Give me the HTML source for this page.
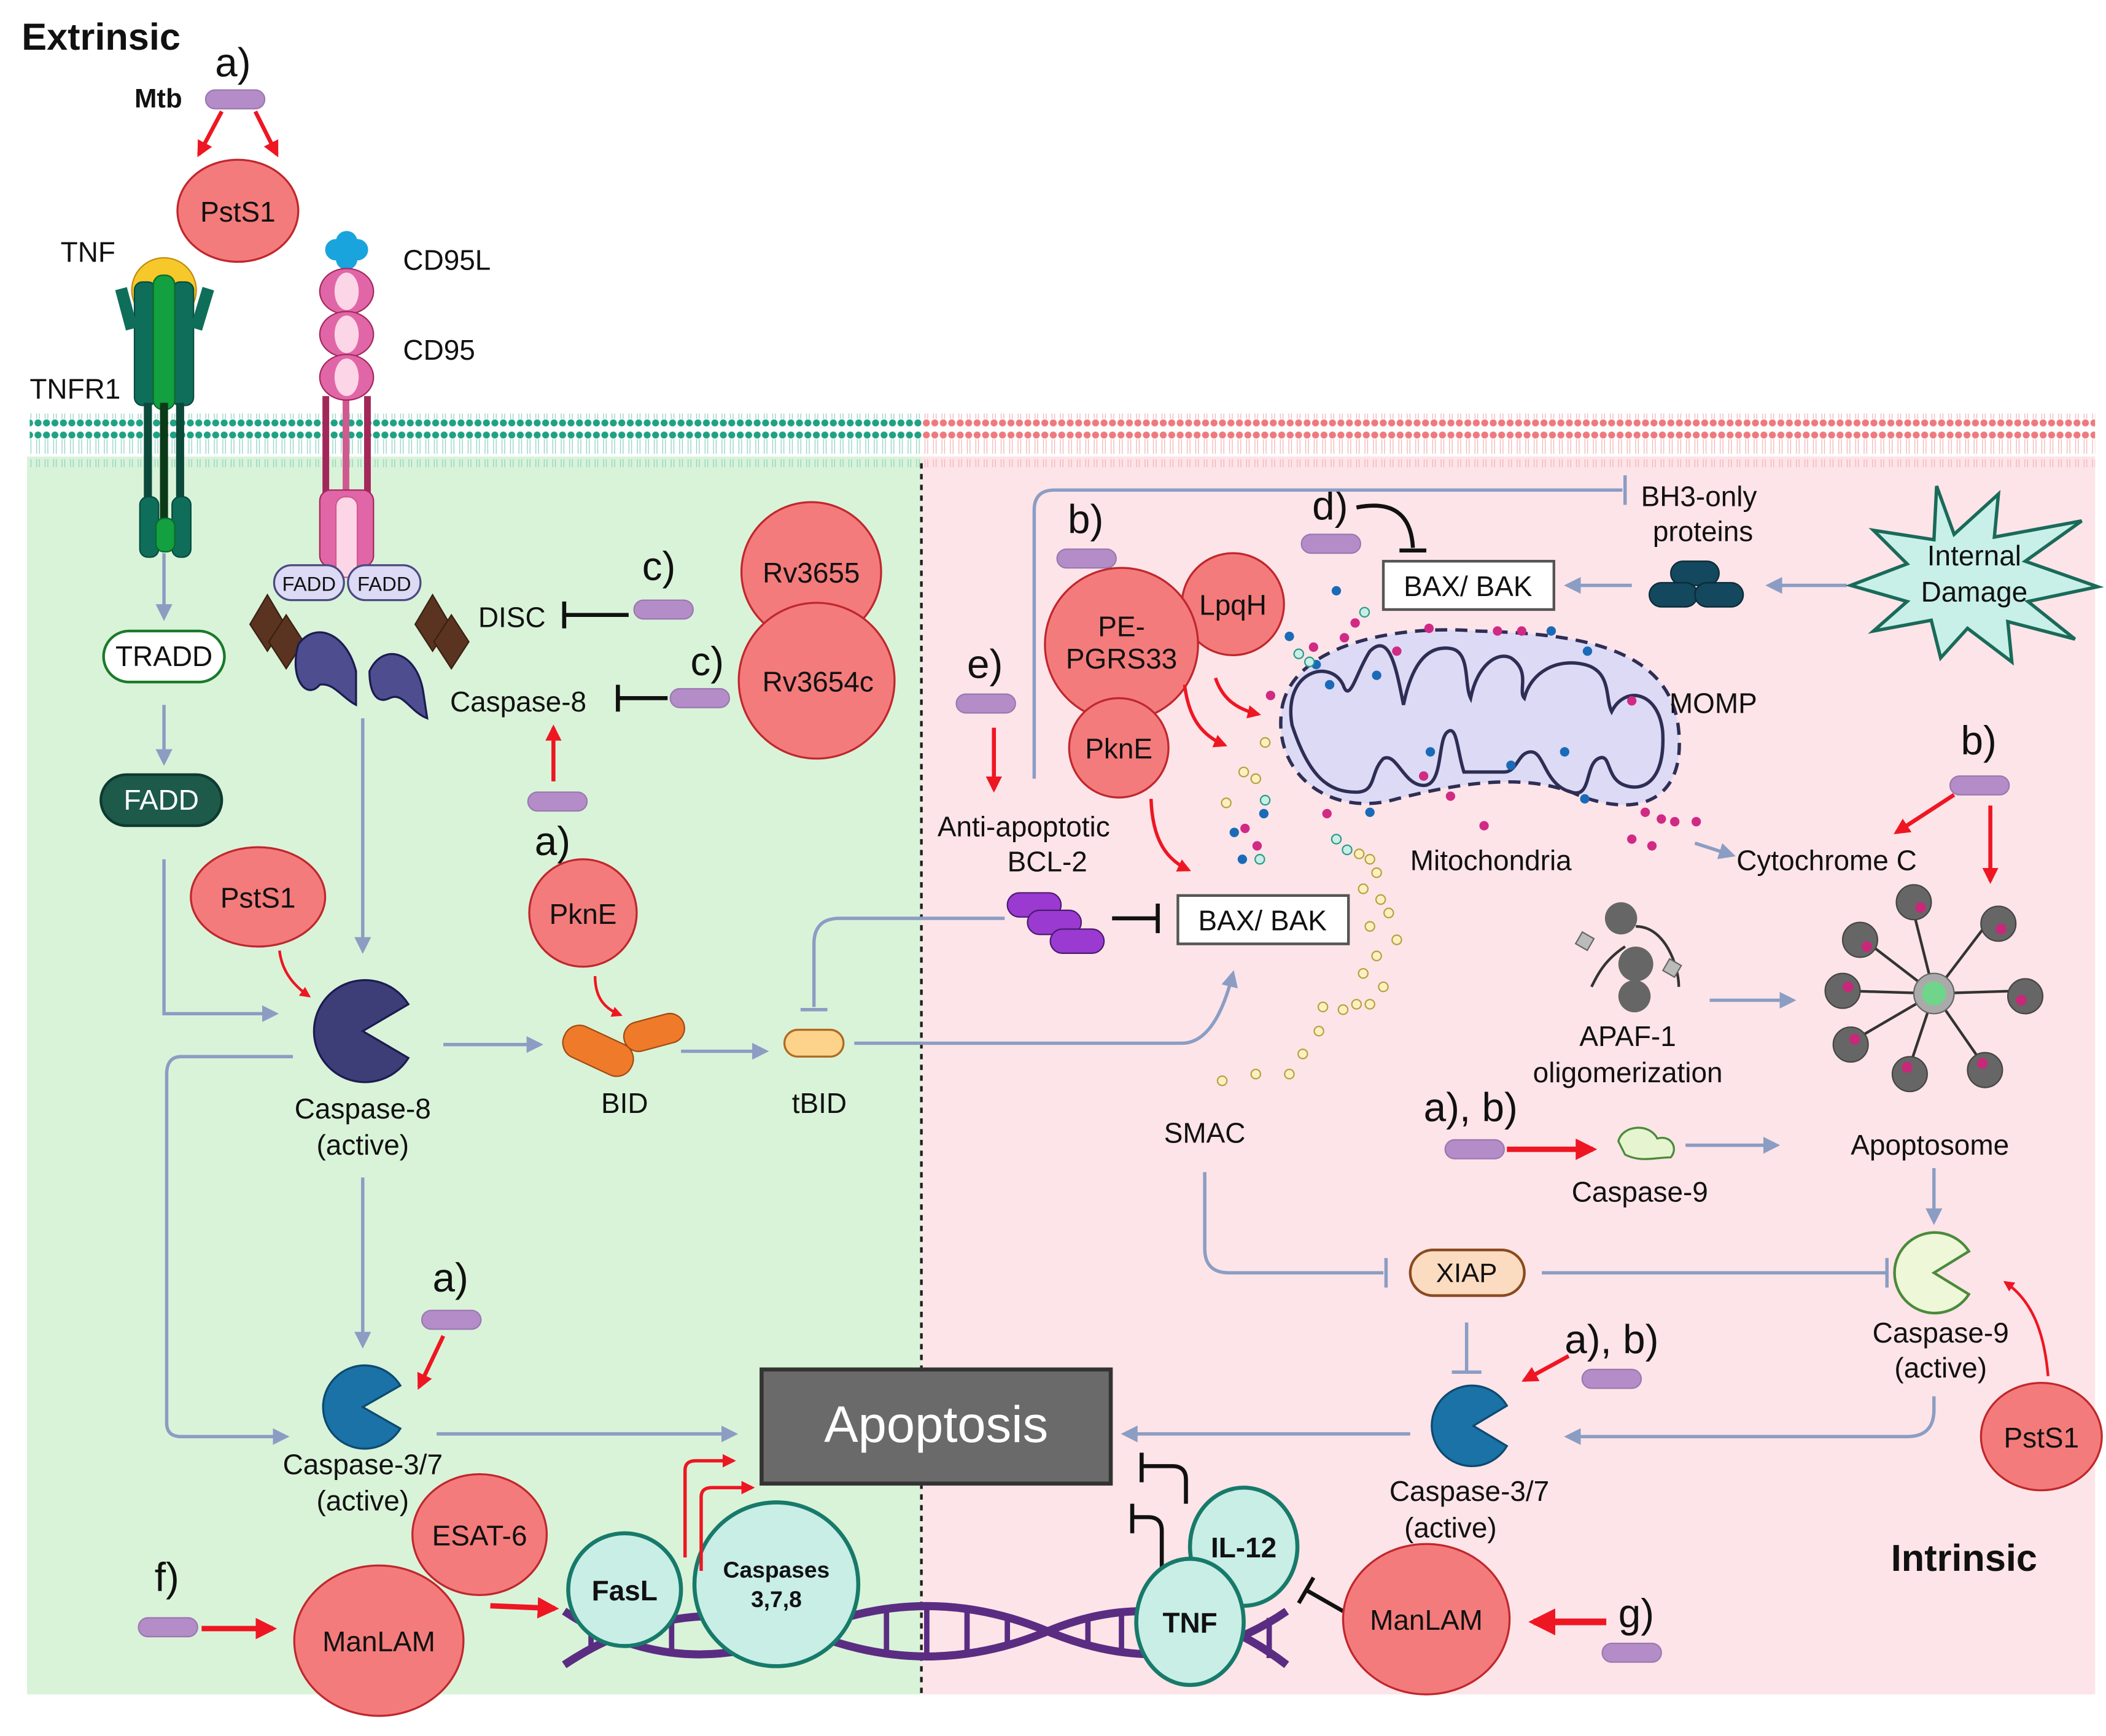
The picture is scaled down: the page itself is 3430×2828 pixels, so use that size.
<!DOCTYPE html>
<html><head><meta charset="utf-8"><style>
html,body{margin:0;padding:0;background:#fff}
svg{display:block}
text{font-family:"Liberation Sans",sans-serif;fill:#111}
</style></head><body>
<svg width="3430" height="2828" viewBox="0 0 1568 1293" xmlns="http://www.w3.org/2000/svg">
<defs>
<marker id="ab" viewBox="0 0 10 10" refX="8" refY="5" markerWidth="5" markerHeight="5" orient="auto"><path d="M0,0L10,5L0,10z" fill="#8b9dc3"/></marker>
<marker id="ar" viewBox="0 0 10 10" refX="8" refY="5" markerWidth="4" markerHeight="4" orient="auto"><path d="M0,0L10,5L0,10z" fill="#ee1622"/></marker>
<pattern id="memG" width="6.3" height="40" patternUnits="userSpaceOnUse"><circle cx="3" cy="4" r="2.6" fill="#1fa283"/><circle cx="3" cy="35" r="2.6" fill="#1fa283"/><path d="M2,7L2,18M4,7L4,18M2,22L2,32M4,22L4,32" stroke="#8fd3c2" stroke-width="0.6"/></pattern>
<pattern id="memP" width="6.3" height="40" patternUnits="userSpaceOnUse"><circle cx="3" cy="4" r="2.6" fill="#ee7a7f"/><circle cx="3" cy="35" r="2.6" fill="#ee7a7f"/><path d="M2,7L2,18M4,7L4,18M2,22L2,32M4,22L4,32" stroke="#f3b4b7" stroke-width="0.6"/></pattern>
<g id="pill"><rect x="0" y="0" width="44" height="14" rx="7" fill="#b48cc8" stroke="#9a78b0"/></g>
</defs>
<rect width="1568" height="1293" fill="#fff"/>
<rect x="20" y="340" width="666" height="922" fill="#d9f3d9"/>
<rect x="686" y="340" width="874" height="922" fill="#fde4e8"/>
<rect x="22" y="308" width="664" height="40" fill="url(#memG)"/>
<rect x="686" y="308" width="874" height="40" fill="url(#memP)"/>
<line x1="686" y1="345" x2="686" y2="1262" stroke="#222" stroke-width="2" stroke-dasharray="4,4"/>

<!-- Extrinsic top -->
<text x="16" y="37" font-size="28" font-weight="bold">Extrinsic</text>
<text x="160" y="57" font-size="30">a)</text>
<text x="100" y="80" font-size="20" font-weight="bold">Mtb</text>
<use href="#pill" x="153" y="67"/>
<line x1="165" y1="83" x2="148" y2="115" stroke="#ee1622" stroke-width="3" marker-end="url(#ar)"/>
<line x1="190" y1="83" x2="206" y2="115" stroke="#ee1622" stroke-width="3" marker-end="url(#ar)"/>
<ellipse cx="177" cy="157" rx="45" ry="38" fill="#f47b7b" stroke="#c0272d" stroke-width="1.5"/>
<text x="177" y="165" font-size="21" text-anchor="middle">PstS1</text>

<text x="45" y="195" font-size="21">TNF</text>
<text x="22" y="297" font-size="21">TNFR1</text>
<text x="300" y="201" font-size="21">CD95L</text>
<text x="300" y="268" font-size="21">CD95</text>
<!-- TNFR1 -->
<circle cx="122" cy="216" r="24" fill="#f6c82a" stroke="#c08a10"/>
<rect x="100" y="210" width="16" height="92" rx="6" fill="#0e6e5a" stroke="#074a3c"/>
<rect x="128" y="210" width="16" height="92" rx="6" fill="#0e6e5a" stroke="#074a3c"/>
<rect x="114" y="205" width="16" height="100" rx="7" fill="#12a040" stroke="#0a6a2a"/>
<path d="M90,215L98,245M155,215L146,245" stroke="#0e6e5a" stroke-width="9"/>
<rect x="107" y="300" width="6" height="72" fill="#0b4a3b"/>
<rect x="131" y="300" width="6" height="72" fill="#0b4a3b"/>
<rect x="119" y="300" width="6" height="90" fill="#0b3a18"/>
<rect x="104" y="370" width="14" height="45" rx="6" fill="#0e6e5a" stroke="#074a3c"/>
<rect x="128" y="370" width="14" height="45" rx="6" fill="#0e6e5a" stroke="#074a3c"/>
<rect x="116" y="386" width="14" height="25" rx="6" fill="#12a040" stroke="#0a6a2a"/>
<!-- CD95 -->
<circle cx="250" cy="186" r="8" fill="#1aa4dd"/><circle cx="266" cy="186" r="8" fill="#1aa4dd"/><circle cx="258" cy="180" r="8" fill="#1aa4dd"/><circle cx="258" cy="193" r="8" fill="#1aa4dd"/>
<rect x="240" y="295" width="5" height="75" fill="#a3285a"/>
<rect x="271" y="295" width="5" height="75" fill="#a3285a"/>
<rect x="255" y="295" width="5" height="75" fill="#d05a90"/>
<ellipse cx="258" cy="217" rx="20" ry="17" fill="#e166a8" stroke="#a3285a"/>
<ellipse cx="258" cy="249" rx="20" ry="17" fill="#e166a8" stroke="#a3285a"/>
<ellipse cx="258" cy="281" rx="20" ry="17" fill="#e166a8" stroke="#a3285a"/>
<ellipse cx="258" cy="217" rx="9" ry="14" fill="#fcd6e6"/><ellipse cx="258" cy="249" rx="9" ry="14" fill="#fcd6e6"/><ellipse cx="258" cy="281" rx="9" ry="14" fill="#fcd6e6"/>
<rect x="238" y="365" width="40" height="57" rx="8" fill="#e166a8" stroke="#a3285a"/>
<rect x="250" y="370" width="16" height="60" rx="7" fill="#fcd6e6" stroke="#d05a90"/>
<rect x="204" y="421" width="52" height="26" rx="13" fill="#dcdaf5" stroke="#4a4a80" stroke-width="1.5"/>
<rect x="259" y="421" width="54" height="26" rx="13" fill="#dcdaf5" stroke="#4a4a80" stroke-width="1.5"/>
<text x="230" y="440" font-size="15" text-anchor="middle">FADD</text>
<text x="286" y="440" font-size="15" text-anchor="middle">FADD</text>
<path d="M199,443L212,465L199,485L186,465z" fill="#5a3420" stroke="#3a2010"/>
<path d="M213,458L226,478L213,498L200,478z" fill="#5a3420" stroke="#3a2010"/>
<path d="M322,443L335,465L322,485L309,465z" fill="#5a3420" stroke="#3a2010"/>
<path d="M336,458L349,478L336,498L323,478z" fill="#5a3420" stroke="#3a2010"/>
<path d="M222,480C235,462 258,472 265,500L265,525C255,520 248,508 238,510C228,522 215,505 222,480z" fill="#4d4d90" stroke="#1c1c50" stroke-width="1.5"/>
<path d="M275,500C285,478 310,485 315,515L318,535C305,530 300,515 290,520C280,525 275,515 275,500z" fill="#4d4d90" stroke="#1c1c50" stroke-width="1.5"/>
<text x="356" y="467" font-size="21">DISC</text>
<line x1="468" y1="458" x2="420" y2="458" stroke="#111" stroke-width="3"/><line x1="420" y1="448" x2="420" y2="468" stroke="#111" stroke-width="3"/>
<use href="#pill" x="472" y="447"/>
<text x="478" y="432" font-size="30">c)</text>
<circle cx="604" cy="426" r="52" fill="#f47b7b" stroke="#c0272d" stroke-width="1.5"/>
<text x="604" y="434" font-size="21" text-anchor="middle">Rv3655</text>
<circle cx="608" cy="507" r="58" fill="#f47b7b" stroke="#c0272d" stroke-width="1.5"/>
<text x="609" y="515" font-size="21" text-anchor="middle">Rv3654c</text>
<text x="514" y="503" font-size="30">c)</text>
<use href="#pill" x="499" y="513"/>
<text x="335" y="530" font-size="21">Caspase-8</text>
<line x1="497" y1="520" x2="460" y2="520" stroke="#111" stroke-width="3"/><line x1="460" y1="510" x2="460" y2="530" stroke="#111" stroke-width="3"/>
<line x1="412" y1="582" x2="412" y2="542" stroke="#ee1622" stroke-width="3" marker-end="url(#ar)"/>
<use href="#pill" x="393" y="590"/>
<text x="398" y="637" font-size="30">a)</text>
<circle cx="434" cy="680" r="40" fill="#f47b7b" stroke="#c0272d" stroke-width="1.5"/>
<text x="434" y="688" font-size="21" text-anchor="middle">PknE</text>

<line x1="122" y1="412" x2="122" y2="460" stroke="#8b9dc3" stroke-width="2.5" marker-end="url(#ab)"/>
<rect x="77" y="470" width="90" height="38" rx="19" fill="#fff" stroke="#1a7a2a" stroke-width="2"/>
<text x="122" y="496" font-size="21" text-anchor="middle">TRADD</text>
<line x1="122" y1="525" x2="122" y2="568" stroke="#8b9dc3" stroke-width="2.5" marker-end="url(#ab)"/>
<rect x="75" y="577" width="90" height="38" rx="19" fill="#1d5a4a" stroke="#0e3a30" stroke-width="2"/>
<text x="120" y="603" font-size="21" text-anchor="middle" style="fill:#fff">FADD</text>
<path d="M122,640L122,755L205,755" fill="none" stroke="#8b9dc3" stroke-width="2.5" marker-end="url(#ab)"/>
<line x1="270" y1="535" x2="270" y2="708" stroke="#8b9dc3" stroke-width="2.5" marker-end="url(#ab)"/>
<ellipse cx="192" cy="668" rx="50" ry="37" fill="#f47b7b" stroke="#c0272d" stroke-width="1.5"/>
<text x="192" y="676" font-size="21" text-anchor="middle">PstS1</text>
<path d="M208,708C210,725 220,735 230,742" fill="none" stroke="#ee1622" stroke-width="2" marker-end="url(#ar)"/>
<path d="M270,768L304,748A38,38 0 1,0 304,788z" fill="#3d3d78" stroke="#1c1c50" stroke-width="1.5"/>
<text x="270" y="833" font-size="21" text-anchor="middle">Caspase-8</text>
<text x="270" y="860" font-size="21" text-anchor="middle">(active)</text>
<line x1="330" y1="778" x2="402" y2="778" stroke="#8b9dc3" stroke-width="2.5" marker-end="url(#ab)"/>
<rect x="418" y="770" width="55" height="25" rx="12" transform="rotate(25 445 782)" fill="#ee7a2a" stroke="#a04a10"/>
<rect x="464" y="758" width="46" height="22" rx="11" transform="rotate(-15 487 769)" fill="#ee7a2a" stroke="#a04a10"/>
<text x="465" y="829" font-size="21" text-anchor="middle">BID</text>
<path d="M443,727C443,745 452,752 462,756" fill="none" stroke="#ee1622" stroke-width="2" marker-end="url(#ar)"/>
<line x1="507" y1="783" x2="570" y2="783" stroke="#8b9dc3" stroke-width="2.5" marker-end="url(#ab)"/>
<rect x="584" y="767" width="44" height="20" rx="10" fill="#fdd38c" stroke="#b06a20" stroke-width="1.5"/>
<text x="610" y="829" font-size="21" text-anchor="middle">tBID</text>
<path d="M748,684L625,684Q606,684 606,703L606,750" fill="none" stroke="#8b9dc3" stroke-width="2.5"/>
<line x1="596" y1="752" x2="616" y2="752" stroke="#8b9dc3" stroke-width="2.5"/>
<path d="M636,777L880,777Q905,777 918,725" fill="none" stroke="#8b9dc3" stroke-width="2.5" marker-end="url(#ab)"/>
<line x1="270" y1="877" x2="270" y2="1002" stroke="#8b9dc3" stroke-width="2.5" marker-end="url(#ab)"/>
<path d="M218,787L135,787Q124,787 124,800L124,1060Q124,1070 135,1070L213,1070" fill="none" stroke="#8b9dc3" stroke-width="2.5" marker-end="url(#ab)"/>
<text x="322" y="962" font-size="30">a)</text>
<use href="#pill" x="314" y="976"/>
<line x1="330" y1="995" x2="312" y2="1033" stroke="#ee1622" stroke-width="3" marker-end="url(#ar)"/>
<path d="M270,1048L298,1032A31,31 0 1,0 298,1064z" fill="#1a72a6" stroke="#0d4a70" stroke-width="1.5"/>
<text x="270" y="1098" font-size="21" text-anchor="middle">Caspase-3/7</text>
<text x="270" y="1125" font-size="21" text-anchor="middle">(active)</text>
<line x1="325" y1="1068" x2="547" y2="1068" stroke="#8b9dc3" stroke-width="2.5" marker-end="url(#ab)"/>
<rect x="567" y="1020" width="260" height="85" fill="#6a6a6a" stroke="#333" stroke-width="3"/>
<text x="697" y="1074" font-size="38" text-anchor="middle" style="fill:#fff">Apoptosis</text>

<!-- bottom -->
<text x="115" y="1185" font-size="30">f)</text>
<use href="#pill" x="103" y="1205"/>
<line x1="150" y1="1213" x2="203" y2="1213" stroke="#ee1622" stroke-width="4" marker-end="url(#ar)"/>
<ellipse cx="282" cy="1222" rx="63" ry="56" fill="#f47b7b" stroke="#c0272d" stroke-width="1.5"/>
<text x="282" y="1230" font-size="21" text-anchor="middle">ManLAM</text>
<ellipse cx="357" cy="1143" rx="50" ry="45" fill="#f47b7b" stroke="#c0272d" stroke-width="1.5"/>
<text x="357" y="1151" font-size="21" text-anchor="middle">ESAT-6</text>
<line x1="365" y1="1196" x2="413" y2="1198" stroke="#ee1622" stroke-width="4" marker-end="url(#ar)"/>
<!-- DNA -->
<path d="M420,1200 C480,1240 540,1240 600,1215 C660,1190 720,1190 780,1215 C840,1240 900,1240 958,1200" fill="none" stroke="#5a2d82" stroke-width="6"/>
<path d="M420,1240 C480,1200 540,1195 600,1215 C660,1240 720,1240 780,1215 C840,1190 900,1195 958,1240" fill="none" stroke="#5a2d82" stroke-width="6"/>
<g stroke="#5a2d82" stroke-width="4">
<line x1="440" y1="1212" x2="440" y2="1228"/><line x1="470" y1="1222" x2="470" y2="1208"/><line x1="500" y1="1230" x2="500" y2="1205"/><line x1="660" y1="1198" x2="660" y2="1232"/><line x1="690" y1="1198" x2="690" y2="1232"/><line x1="720" y1="1198" x2="720" y2="1232"/><line x1="750" y1="1203" x2="750" y2="1228"/><line x1="810" y1="1205" x2="810" y2="1228"/><line x1="835" y1="1200" x2="835" y2="1232"/><line x1="945" y1="1205" x2="945" y2="1235"/>
</g>
<circle cx="465" cy="1184" r="42" fill="#c8eee6" stroke="#177a6a" stroke-width="3"/>
<text x="465" y="1192" font-size="21" font-weight="bold" text-anchor="middle">FasL</text>
<circle cx="578" cy="1180" r="61" fill="#c8eee6" stroke="#177a6a" stroke-width="3"/>
<text x="578" y="1175" font-size="17" font-weight="bold" text-anchor="middle">Caspases</text>
<text x="578" y="1197" font-size="17" font-weight="bold" text-anchor="middle">3,7,8</text>
<path d="M510,1160L510,1095Q510,1088 518,1088L546,1088" fill="none" stroke="#ee1622" stroke-width="2.5" marker-end="url(#ar)"/>
<path d="M522,1170L522,1115Q522,1108 530,1108L560,1108" fill="none" stroke="#ee1622" stroke-width="2.5" marker-end="url(#ar)"/>
<path d="M865,1172L865,1140Q865,1130 855,1130L843,1130" fill="none" stroke="#111" stroke-width="3"/><line x1="843" y1="1120" x2="843" y2="1142" stroke="#111" stroke-width="3"/>
<path d="M883,1120L883,1102Q883,1092 873,1092L850,1092" fill="none" stroke="#111" stroke-width="3"/><line x1="850" y1="1082" x2="850" y2="1104" stroke="#111" stroke-width="3"/>
<ellipse cx="926" cy="1152" rx="40" ry="44" fill="#c8eee6" stroke="#177a6a" stroke-width="3"/>
<text x="926" y="1160" font-size="21" font-weight="bold" text-anchor="middle">IL-12</text>
<ellipse cx="886" cy="1208" rx="40" ry="47" fill="#c8eee6" stroke="#177a6a" stroke-width="3"/>
<text x="886" y="1216" font-size="21" font-weight="bold" text-anchor="middle">TNF</text>
<line x1="1000" y1="1200" x2="972" y2="1184" stroke="#111" stroke-width="3"/><line x1="967" y1="1194" x2="978" y2="1175" stroke="#111" stroke-width="3"/>
<ellipse cx="1062" cy="1206" rx="62" ry="56" fill="#f47b7b" stroke="#c0272d" stroke-width="1.5"/>
<text x="1062" y="1214" font-size="21" text-anchor="middle">ManLAM</text>
<line x1="1196" y1="1208" x2="1142" y2="1208" stroke="#ee1622" stroke-width="5" marker-end="url(#ar)"/>
<text x="1205" y="1212" font-size="30">g)</text>
<use href="#pill" x="1193" y="1224"/>
<text x="1408" y="1170" font-size="28" font-weight="bold">Intrinsic</text>

<!-- right lower -->
<ellipse cx="1520" cy="1070" rx="45" ry="40" fill="#f47b7b" stroke="#c0272d" stroke-width="1.5"/>
<text x="1520" y="1078" font-size="21" text-anchor="middle">PstS1</text>
<path d="M1525,1025C1522,990 1512,968 1493,955" fill="none" stroke="#ee1622" stroke-width="2" marker-end="url(#ar)"/>
<path d="M1440,948L1466,932A30,30 0 1,0 1466,964z" fill="#eef7d8" stroke="#4a8a3a" stroke-width="2"/>
<text x="1445" y="1000" font-size="21" text-anchor="middle">Caspase-9</text>
<text x="1445" y="1026" font-size="21" text-anchor="middle">(active)</text>
<line x1="1440" y1="870" x2="1440" y2="910" stroke="#8b9dc3" stroke-width="2.5" marker-end="url(#ab)"/>
<text x="1437" y="860" font-size="21" text-anchor="middle">Apoptosome</text>
<path d="M1440,1040L1440,1050Q1440,1070 1420,1070L1167,1070" fill="none" stroke="#8b9dc3" stroke-width="2.5" marker-end="url(#ab)"/>
<path d="M1097,1062L1122,1047A30,30 0 1,0 1122,1077z" fill="#1a72a6" stroke="#0d4a70" stroke-width="1.5"/>
<text x="1094" y="1118" font-size="21" text-anchor="middle">Caspase-3/7</text>
<text x="1080" y="1145" font-size="21" text-anchor="middle">(active)</text>
<line x1="1050" y1="1068" x2="837" y2="1068" stroke="#8b9dc3" stroke-width="2.5" marker-end="url(#ab)"/>
<text x="1165" y="1008" font-size="30">a), b)</text>
<use href="#pill" x="1178" y="1020"/>
<line x1="1168" y1="1010" x2="1135" y2="1028" stroke="#ee1622" stroke-width="3" marker-end="url(#ar)"/>
<rect x="1050" y="931" width="85" height="34" rx="17" fill="#fbdcc0" stroke="#8a4a20" stroke-width="2"/>
<text x="1092" y="955" font-size="20" text-anchor="middle">XIAP</text>
<line x1="1148" y1="948" x2="1405" y2="948" stroke="#8b9dc3" stroke-width="2.5"/><line x1="1405" y1="937" x2="1405" y2="959" stroke="#8b9dc3" stroke-width="2.5"/>
<line x1="1092" y1="985" x2="1092" y2="1022" stroke="#8b9dc3" stroke-width="2.5"/><line x1="1081" y1="1022" x2="1103" y2="1022" stroke="#8b9dc3" stroke-width="2.5"/>
<text x="897" y="851" font-size="21" text-anchor="middle">SMAC</text>
<path d="M897,873L897,930Q897,948 915,948L1030,948" fill="none" stroke="#8b9dc3" stroke-width="2.5"/><line x1="1032" y1="937" x2="1032" y2="959" stroke="#8b9dc3" stroke-width="2.5"/>
<text x="1060" y="835" font-size="30">a), b)</text>
<use href="#pill" x="1076" y="849"/>
<line x1="1122" y1="856" x2="1186" y2="856" stroke="#ee1622" stroke-width="4" marker-end="url(#ar)"/>
<path d="M1205,850C1208,838 1228,836 1234,848C1244,845 1250,855 1244,862C1232,862 1222,866 1210,860z" fill="#e6f5d0" stroke="#4a8a3a" stroke-width="1.5"/>
<text x="1221" y="895" font-size="21" text-anchor="middle">Caspase-9</text>
<line x1="1255" y1="853" x2="1323" y2="853" stroke="#8b9dc3" stroke-width="2.5" marker-end="url(#ab)"/>
<!-- APAF -->
<path d="M1218,690C1240,690 1250,720 1250,735M1210,705C1195,715 1190,725 1185,735" fill="none" stroke="#333" stroke-width="2"/>
<circle cx="1207" cy="684" r="12" fill="#666"/><circle cx="1218" cy="718" r="13" fill="#666"/><circle cx="1217" cy="742" r="12" fill="#666"/>
<rect x="1175" y="696" width="10" height="10" fill="#bbb" stroke="#666" transform="rotate(30 1180 701)"/>
<rect x="1240" y="716" width="10" height="10" fill="#bbb" stroke="#666" transform="rotate(30 1245 721)"/>
<text x="1212" y="779" font-size="21" text-anchor="middle">APAF-1</text>
<text x="1212" y="806" font-size="21" text-anchor="middle">oligomerization</text>
<line x1="1273" y1="745" x2="1335" y2="745" stroke="#8b9dc3" stroke-width="2.5" marker-end="url(#ab)"/>
<!-- apoptosome -->
<g stroke="#333" stroke-width="2" fill="none">
<path d="M1440,740L1425,680M1440,740L1478,690M1440,740L1503,738M1440,740L1476,792M1440,740L1420,800M1440,740L1380,775M1440,740L1375,738M1440,740L1388,700"/>
</g>
<g fill="#666" stroke="#444">
<circle cx="1425" cy="672" r="13"/><circle cx="1488" cy="688" r="13"/><circle cx="1508" cy="742" r="13"/><circle cx="1478" cy="797" r="13"/><circle cx="1422" cy="800" r="13"/><circle cx="1378" cy="778" r="13"/><circle cx="1372" cy="738" r="13"/><circle cx="1385" cy="700" r="13"/>
</g>
<g fill="#c8287a"><circle cx="1430" cy="676" r="4"/><circle cx="1490" cy="692" r="4"/><circle cx="1505" cy="745" r="4"/><circle cx="1476" cy="792" r="4"/><circle cx="1420" cy="795" r="4"/><circle cx="1381" cy="774" r="4"/><circle cx="1376" cy="735" r="4"/><circle cx="1390" cy="705" r="4"/></g>
<circle cx="1440" cy="740" r="15" fill="#aaa" stroke="#666"/><circle cx="1440" cy="740" r="9" fill="#6fd58a"/>
<text x="1293" y="648" font-size="21">Cytochrome C</text>
<text x="1460" y="562" font-size="30">b)</text>
<use href="#pill" x="1452" y="578"/>
<line x1="1455" y1="592" x2="1412" y2="620" stroke="#ee1622" stroke-width="3" marker-end="url(#ar)"/>
<line x1="1482" y1="600" x2="1482" y2="656" stroke="#ee1622" stroke-width="3" marker-end="url(#ar)"/>
<line x1="1262" y1="628" x2="1290" y2="637" stroke="#8b9dc3" stroke-width="2.5" marker-end="url(#ab)"/>

<!-- mitochondria -->
<path d="M955,525C965,480 1040,465 1100,470C1170,472 1245,480 1250,545C1255,600 1215,610 1170,590C1130,575 1080,585 1040,595C990,610 945,575 955,525z" fill="#dcdaf5" stroke="#2e2e55" stroke-width="2.5" stroke-dasharray="9,6"/>
<path d="M962,540C955,500 990,490 1000,510C1005,525 1010,500 1020,485C1035,470 1040,500 1045,525C1050,500 1060,480 1080,483C1095,485 1090,510 1095,520C1100,495 1115,485 1125,490C1140,500 1130,515 1135,520C1140,500 1160,490 1180,495C1200,500 1195,520 1200,530C1210,510 1235,515 1238,545C1240,580 1225,590 1210,585C1195,580 1200,560 1190,565C1180,570 1185,595 1170,590C1150,585 1150,560 1140,560C1130,560 1130,575 1120,575L1090,575C1085,560 1085,540 1078,545C1070,550 1075,585 1060,585C1045,585 1040,560 1030,565C1020,575 1025,590 1010,590C990,590 975,580 962,540z" fill="none" stroke="#2e2e55" stroke-width="2.5"/>
<g fill="#d02a85"><circle cx="1009" cy="464" r="3.5"/><circle cx="1001" cy="475" r="3.5"/><circle cx="978" cy="482" r="3.5"/><circle cx="1040" cy="485" r="3.5"/><circle cx="1064" cy="468" r="3.5"/><circle cx="1115" cy="470" r="3.5"/><circle cx="1133" cy="470" r="3.5"/><circle cx="946" cy="518" r="3.5"/><circle cx="1215" cy="522" r="3.5"/><circle cx="988" cy="606" r="3.5"/><circle cx="1060" cy="578" r="3.5"/><circle cx="1105" cy="615" r="3.5"/><circle cx="1225" cy="605" r="3.5"/><circle cx="1237" cy="610" r="3.5"/><circle cx="1247" cy="612" r="3.5"/><circle cx="1215" cy="625" r="3.5"/><circle cx="1230" cy="630" r="3.5"/><circle cx="1263" cy="612" r="3.5"/><circle cx="927" cy="617" r="3.5"/><circle cx="936" cy="630" r="3.5"/><circle cx="1080" cy="593" r="3.5"/></g>
<g fill="#1a6ab8"><circle cx="995" cy="440" r="3.5"/><circle cx="960" cy="474" r="3.5"/><circle cx="980" cy="495" r="3.5"/><circle cx="1155" cy="470" r="3.5"/><circle cx="1182" cy="485" r="3.5"/><circle cx="1025" cy="503" r="3.5"/><circle cx="990" cy="510" r="3.5"/><circle cx="1125" cy="570" r="3.5"/><circle cx="1065" cy="560" r="3.5"/><circle cx="1165" cy="560" r="3.5"/><circle cx="1180" cy="595" r="3.5"/><circle cx="1020" cy="605" r="3.5"/><circle cx="941" cy="606" r="3.5"/><circle cx="919" cy="620" r="3.5"/><circle cx="925" cy="640" r="3.5"/></g>
<g fill="#c8eee6" stroke="#2a9a8a"><circle cx="1016" cy="456" r="3.5"/><circle cx="967" cy="487" r="3.5"/><circle cx="975" cy="493" r="3.5"/><circle cx="942" cy="596" r="3.5"/><circle cx="995" cy="625" r="3.5"/><circle cx="938" cy="640" r="3.5"/><circle cx="1003" cy="633" r="3.5"/></g>
<g fill="#fbf0c0" stroke="#b8a040"><circle cx="942" cy="553" r="3.5"/><circle cx="926" cy="575" r="3.5"/><circle cx="913" cy="598" r="3.5"/><circle cx="935" cy="580" r="3.5"/><circle cx="1012" cy="636" r="3.5"/><circle cx="1020" cy="640" r="3.5"/><circle cx="1025" cy="650" r="3.5"/><circle cx="1015" cy="662" r="3.5"/><circle cx="1028" cy="670" r="3.5"/><circle cx="1034" cy="680" r="3.5"/><circle cx="1020" cy="690" r="3.5"/><circle cx="1040" cy="700" r="3.5"/><circle cx="1025" cy="712" r="3.5"/><circle cx="1015" cy="725" r="3.5"/><circle cx="1030" cy="735" r="3.5"/><circle cx="1010" cy="748" r="3.5"/><circle cx="1020" cy="748" r="3.5"/><circle cx="985" cy="750" r="3.5"/><circle cx="1000" cy="752" r="3.5"/><circle cx="982" cy="768" r="3.5"/><circle cx="970" cy="785" r="3.5"/><circle cx="960" cy="800" r="3.5"/><circle cx="935" cy="800" r="3.5"/><circle cx="910" cy="805" r="3.5"/></g>
<text x="1050" y="648" font-size="21">Mitochondria</text>
<text x="1243" y="531" font-size="21">MOMP</text>
<rect x="1030" y="418" width="127" height="36" fill="#fff" stroke="#555" stroke-width="2"/>
<text x="1093" y="444" font-size="21" text-anchor="middle">BAX/ BAK</text>
<line x1="1215" y1="436" x2="1167" y2="436" stroke="#8b9dc3" stroke-width="2.5" marker-end="url(#ab)"/>
<rect x="1244" y="418" width="36" height="18" rx="9" fill="#13485e" stroke="#0a2a38"/>
<rect x="1228" y="434" width="36" height="18" rx="9" fill="#13485e" stroke="#0a2a38"/>
<rect x="1262" y="434" width="36" height="18" rx="9" fill="#13485e" stroke="#0a2a38"/>
<text x="1265" y="377" font-size="21" text-anchor="middle">BH3-only</text>
<text x="1268" y="403" font-size="21" text-anchor="middle">proteins</text>
<line x1="1375" y1="436" x2="1317" y2="436" stroke="#8b9dc3" stroke-width="2.5" marker-end="url(#ab)"/>
<path d="M1442,362L1455,398L1488,368L1485,400L1550,388L1508,418L1562,437L1510,448L1545,476L1495,463L1498,493L1465,468L1445,490L1438,462L1395,470L1420,448L1378,436L1420,420L1395,395L1440,402z" fill="#c8f0e8" stroke="#1a6a5a" stroke-width="2.5"/>
<text x="1470" y="421" font-size="21" text-anchor="middle">Internal</text>
<text x="1470" y="448" font-size="21" text-anchor="middle">Damage</text>
<text x="977" y="387" font-size="30">d)</text>
<use href="#pill" x="969" y="398"/>
<path d="M1010,378Q1050,370 1052,408" fill="none" stroke="#111" stroke-width="3"/><line x1="1042" y1="410" x2="1062" y2="410" stroke="#111" stroke-width="3"/>
<path d="M770,580L770,380Q770,365 785,365L1208,365" fill="none" stroke="#8b9dc3" stroke-width="2.5"/><line x1="1210" y1="354" x2="1210" y2="376" stroke="#8b9dc3" stroke-width="2.5"/>
<text x="795" y="397" font-size="30">b)</text>
<use href="#pill" x="787" y="409"/>
<text x="720" y="505" font-size="30">e)</text>
<use href="#pill" x="712" y="517"/>
<line x1="740" y1="542" x2="740" y2="588" stroke="#ee1622" stroke-width="3" marker-end="url(#ar)"/>
<text x="698" y="623" font-size="21">Anti-apoptotic</text>
<text x="750" y="649" font-size="21">BCL-2</text>
<rect x="750" y="665" width="40" height="18" rx="9" fill="#9a3ad0" stroke="#4a1a70"/>
<rect x="765" y="678" width="40" height="18" rx="9" fill="#9a3ad0" stroke="#4a1a70"/>
<rect x="782" y="692" width="40" height="18" rx="9" fill="#9a3ad0" stroke="#4a1a70"/>
<line x1="828" y1="684" x2="862" y2="684" stroke="#111" stroke-width="3"/><line x1="862" y1="673" x2="862" y2="695" stroke="#111" stroke-width="3"/>
<rect x="877" y="667" width="127" height="36" fill="#fff" stroke="#555" stroke-width="2"/>
<text x="940" y="693" font-size="21" text-anchor="middle">BAX/ BAK</text>
<circle cx="918" cy="450" r="38" fill="#f47b7b" stroke="#c0272d" stroke-width="1.5"/>
<text x="918" y="458" font-size="21" text-anchor="middle">LpqH</text>
<circle cx="835" cy="480" r="57" fill="#f47b7b" stroke="#c0272d" stroke-width="1.5"/>
<text x="835" y="474" font-size="21" text-anchor="middle">PE-</text>
<text x="835" y="498" font-size="21" text-anchor="middle">PGRS33</text>
<circle cx="833" cy="557" r="37" fill="#f47b7b" stroke="#c0272d" stroke-width="1.5"/>
<text x="833" y="565" font-size="21" text-anchor="middle">PknE</text>
<path d="M882,510C885,535 895,548 912,555" fill="none" stroke="#ee1622" stroke-width="2.5" marker-end="url(#ar)"/>
<path d="M905,505C910,520 920,528 937,532" fill="none" stroke="#ee1622" stroke-width="2.5" marker-end="url(#ar)"/>
<path d="M857,595C858,625 868,640 885,648" fill="none" stroke="#ee1622" stroke-width="2.5" marker-end="url(#ar)"/>
</svg>
</body></html>
